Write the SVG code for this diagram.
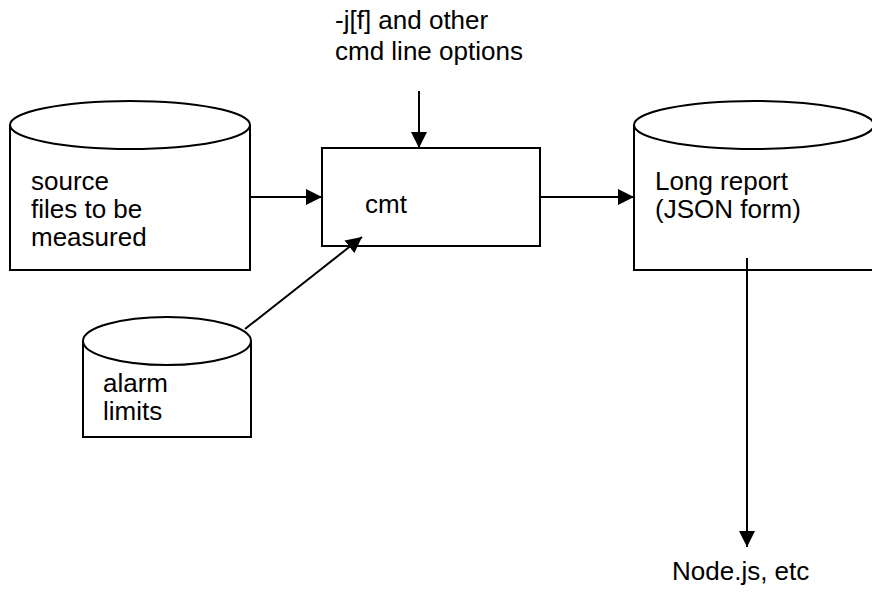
<svg xmlns="http://www.w3.org/2000/svg" width="872" height="592" viewBox="0 0 872 592">
<style>
.s{fill:#fff;stroke:#000;stroke-width:2}
.c{stroke:#000;stroke-width:2;fill:none}
text{font-family:"Liberation Sans",Arial,sans-serif;font-size:26px;fill:#000}
</style>
<defs>
<marker id="ah" markerUnits="userSpaceOnUse" markerWidth="17" markerHeight="17" viewBox="0 0 17 17" refX="16" refY="8.5" orient="auto">
<path d="M0,0.5 L16,8.5 L0,16.5 Z" fill="#000"/>
</marker>
</defs>
<rect width="872" height="592" fill="#fff"/>
<g id="source">
<path class="s" d="M10,125 L10,270 L250,270 L250,125"/>
<ellipse class="s" cx="130" cy="125" rx="120" ry="24"/>
<text x="31" y="190">source</text>
<text x="31" y="218">files to be</text>
<text x="31" y="246">measured</text>
</g>
<g id="cmt">
<rect class="s" x="322" y="148" width="218" height="98"/>
<text x="365" y="213">cmt</text>
</g>
<g id="report">
<path class="s" d="M634,125 L634,270 L874,270 L874,125"/>
<ellipse class="s" cx="754" cy="125" rx="120" ry="24"/>
<text x="655" y="190">Long report</text>
<text x="655" y="218">(JSON form)</text>
</g>
<g id="alarm">
<path class="s" d="M83,341 L83,437 L251,437 L251,341"/>
<ellipse class="s" cx="167" cy="341" rx="84" ry="24"/>
<text x="103" y="392">alarm</text>
<text x="103" y="420">limits</text>
</g>
<g id="options">
<text x="335" y="29">-j[f] and other</text>
<text x="335" y="60">cmd line options</text>
</g>
<g id="node">
<text x="672" y="580">Node.js, etc</text>
</g>
<g id="connectors">
<line class="c" x1="250" y1="197" x2="322" y2="197" marker-end="url(#ah)"/>
<line class="c" x1="540" y1="197" x2="634" y2="197" marker-end="url(#ah)"/>
<line class="c" x1="419" y1="91" x2="419" y2="148" marker-end="url(#ah)"/>
<line class="c" x1="245" y1="329" x2="362" y2="237" marker-end="url(#ah)"/>
<line class="c" x1="747" y1="258" x2="747" y2="547" marker-end="url(#ah)"/>
</g>
</svg>
